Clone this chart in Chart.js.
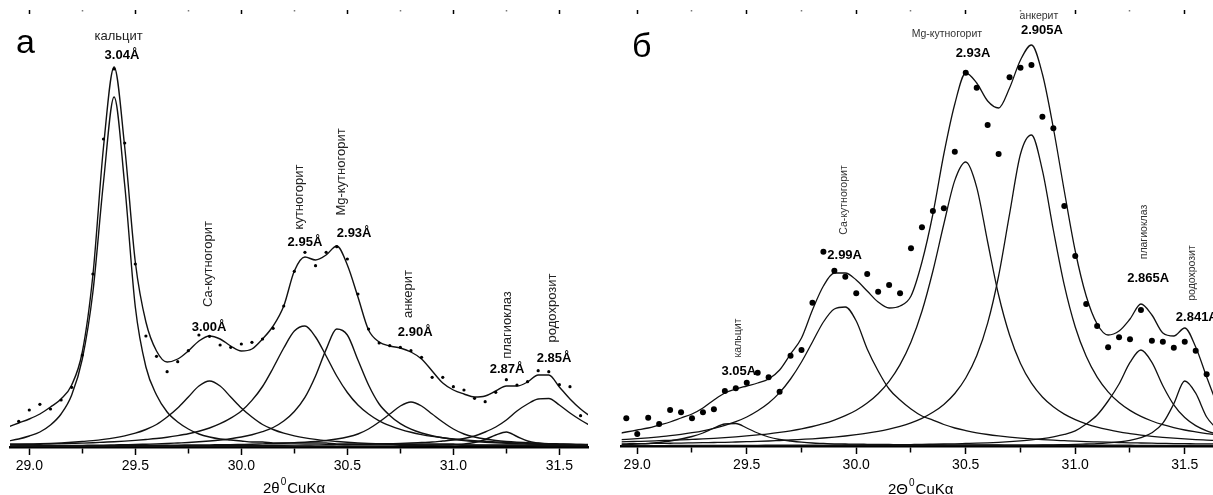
<!DOCTYPE html>
<html lang="ru">
<head>
<meta charset="UTF-8">
<title>Разложение профилей карбонатов</title>
<script src="https://cdn.jsdelivr.net/npm/chart.js"></script>
<style>
  html, body { margin: 0; padding: 0; background: #fff; overflow: hidden; width: 1213px; height: 495px; }
  #chartA { position: absolute; left: 0; top: 0; }
  #chartB { position: absolute; left: 600px; top: 0; }
</style>
</head>
<body>
<canvas id="chartA" width="600" height="495"></canvas>
<canvas id="chartB" width="617" height="495"></canvas>
<script>
// 2θ, шаг 0.05
const twoTheta = [
  28.90, 28.95, 29.00, 29.05, 29.10, 29.15, 29.20, 29.25,
  29.30, 29.35, 29.40, 29.45, 29.50, 29.55, 29.60, 29.65,
  29.70, 29.75, 29.80, 29.85, 29.90, 29.95, 30.00, 30.05,
  30.10, 30.15, 30.20, 30.25, 30.30, 30.35, 30.40, 30.45,
  30.50, 30.55, 30.60, 30.65, 30.70, 30.75, 30.80, 30.85,
  30.90, 30.95, 31.00, 31.05, 31.10, 31.15, 31.20, 31.25,
  31.30, 31.35, 31.40, 31.45, 31.50, 31.55, 31.60, 31.65
];
const tickVals = [29.0, 29.25, 29.5, 29.75, 30.0, 30.25, 30.5, 30.75, 31.0, 31.25, 31.5];

// ---- а ----
const calciteA = [
  6, 8, 11, 15, 22, 33, 52, 88,
  155, 265, 350, 262, 140, 80, 52, 35,
  25, 18, 13, 10, 8, 7, 6, 5,
  5, 4, 4, 4, 4, 4, 4, 3,
  3, 3, 3, 3, 3, 3, 3, 3,
  3, 3, 3, 2, 2, 2, 2, 2,
  2, 2, 2, 2, 2, 2, 2, 2
];
const caKutA = [
  3, 3, 3, 3.2, 3.6, 4.1, 4.7, 5.5,
  6.4, 7.6, 9.1, 11.1, 13.8, 17.5, 22.5, 30,
  39, 50, 61, 66, 61, 50, 39, 30,
  22.5, 17.5, 13.8, 11.1, 9.1, 7.6, 6.4, 5.5,
  4.7, 4.1, 3.6, 3.2, 2.8, 2.5, 2.3, 2.1,
  2, 2, 1.9, 1.8, 1.7, 1.6, 1.5, 1.5,
  1.4, 1.4, 1.3, 1.3, 1.2, 1.2, 1.1, 1.1
];
const kutA = [
  2.2, 2.4, 2.6, 2.8, 3.0, 3.3, 3.6, 3.9,
  4.3, 4.8, 5.3, 5.9, 6.6, 7.5, 8.5, 9.8,
  11.4, 13.3, 15.8, 19, 23.3, 28.9, 36, 46.6,
  60.5, 79, 99, 116, 121, 110, 91, 71,
  54.5, 42, 33, 26.2, 21.4, 17.6, 14.7, 12.4,
  10.6, 9.2, 8, 7.1, 6.3, 5.7, 5.1, 4.6,
  4.1, 3.7, 3.4, 3.1, 2.9, 2.7, 2.5, 2.3
];
const mgKutA = [
  0.9, 1.0, 1.1, 1.2, 1.3, 1.4, 1.5, 1.6,
  1.8, 1.9, 2.1, 2.3, 2.5, 2.8, 3.1, 3.5,
  4.0, 4.5, 5.2, 6, 7, 8.3, 10, 12.2,
  15.3, 19.5, 26, 35.5, 49.6, 71, 97.6, 118,
  112, 87, 62, 43, 31.6, 23.3, 17.8, 14,
  11.3, 9.3, 7.7, 6.4, 5.5, 4.8, 4.2, 3.7,
  3.3, 3.0, 2.7, 2.4, 2.2, 2.0, 1.9, 1.7
];
const ankA = [
  0.9, 0.95, 1.0, 1.05, 1.1, 1.15, 1.2, 1.3,
  1.3, 1.35, 1.4, 1.5, 1.6, 1.7, 1.7, 1.8,
  1.9, 1.95, 2.0, 2.1, 2.3, 2.4, 2.6, 2.8,
  3.1, 3.4, 3.8, 4.3, 4.8, 5.5, 6.5, 8,
  10, 13, 18, 25, 33, 41, 45, 41,
  33, 25, 18, 13, 10, 8, 6.5, 5.5,
  4.8, 4.3, 3.8, 3.4, 3.1, 2.8, 2.6, 2.4
];
const plagA = [
  0.35, 0.35, 0.4, 0.4, 0.4, 0.4, 0.4, 0.45,
  0.45, 0.45, 0.45, 0.5, 0.5, 0.5, 0.5, 0.55,
  0.55, 0.55, 0.6, 0.6, 0.6, 0.65, 0.65, 0.7,
  0.7, 0.7, 0.75, 0.8, 0.8, 0.85, 0.9, 0.9,
  0.95, 1.0, 1.0, 1.1, 1.15, 1.2, 1.3, 1.45,
  1.6, 1.9, 2.3, 3, 4.5, 7.5, 12, 15,
  10.5, 6, 4, 3, 2.3, 1.9, 1.7, 1.5
];
const rhodA = [
  0.75, 0.8, 0.8, 0.8, 0.85, 0.85, 0.9, 0.9,
  0.95, 0.95, 1.0, 1.0, 1.05, 1.1, 1.1, 1.15,
  1.2, 1.25, 1.3, 1.35, 1.4, 1.45, 1.5, 1.6,
  1.65, 1.7, 1.8, 1.9, 2.0, 2.1, 2.2, 2.35,
  2.5, 2.65, 2.8, 3.0, 3.3, 3.6, 4.0, 4.5,
  5, 6, 7, 8.5, 11, 15, 20, 27,
  36, 43, 48, 48.5, 42, 34, 27, 21
];
const sumA = [
  20, 24, 28, 33, 40, 48, 62, 95,
  172, 300, 380, 300, 185, 125, 96, 85,
  88, 96, 106, 111, 108, 101, 96, 98,
  108, 121, 141, 176, 190, 187, 192, 201,
  182, 150, 117, 105, 101, 99, 95, 88,
  76, 64, 57, 53, 50, 51, 56, 61,
  61, 65, 72, 72, 60, 48, 38, 30
];
const obsA = [
  null, 25.7, 37, 42.7, 38, 47, 59.7, 92,
  173, 308, 378, 304, 183, 111, 90.7, 75.3,
  85.3, 96.3, 112, 110.7, 102, 99.7, 103, 104.7,
  108, 118.7, 141, 175.7, 194.7, 181.3, 194.7, 200.3,
  188, 153, 118, 104, 101.3, 99.7, 96.3, 89.7,
  69.7, 69.7, 60.3, 57, 48.7, 45.3, 54.7, 67.3,
  62, 65.3, 76.3, 75.3, 62.3, 60.3, 31.3, null
];

// ---- б ----
const calciteB = [
  1, 1.5, 2, 2.5, 3.5, 5, 7, 9.5,
  13, 18, 22, 22.5, 18, 13, 9, 6.5,
  5, 3.8, 3, 2.6, 2.2, 2, 1.8, 1.7,
  1.6, 1.5, 1.4, 1.35, 1.3, 1.25, 1.2, 1.15,
  1.1, 1.05, 1.0, 1.0, 0.95, 0.95, 0.9, 0.9,
  0.85, 0.85, 0.8, 0.8, 0.8, 0.75, 0.75, 0.75,
  0.7, 0.7, 0.7, 0.7, 0.65, 0.65, 0.65, 0.65
];
const caKutB = [
  6.1, 6.7, 7.4, 8.2, 9.2, 10.3, 11.7, 13.3,
  15.2, 17.6, 20.6, 24.3, 29, 35.2, 43, 53.4,
  67, 84, 104, 124, 137, 139, 125, 97,
  75, 57, 46, 37, 30, 25.9, 21.5, 18,
  15.4, 13.2, 11.5, 10.1, 8.9, 7.9, 7.1, 6.4,
  5.8, 5.3, 4.8, 4.4, 4.1, 3.8, 3.5, 3.2,
  3, 2.8, 2.6, 2.4, 2.3, 2.2, 2.1, 2.0
];
const mgKutB = [
  4.1, 4.3, 4.6, 4.9, 5.3, 5.7, 6.1, 6.6,
  7.1, 7.7, 8.4, 9.2, 10.1, 11.1, 12.2, 13.6,
  15.2, 17.1, 19.5, 22.3, 25.9, 30.3, 35.8, 43,
  52.3, 64.7, 81.4, 104, 134.7, 175, 222, 265.6,
  284, 258.7, 204, 151, 111, 82.6, 62.8, 49,
  39.2, 31.9, 26.4, 22.2, 18.9, 16.3, 14.1, 12.4,
  10.9, 9.7, 8.7, 7.8, 7.1, 6.4, 5.9, 5.4
];
const ankB = [
  2.1, 2.2, 2.3, 2.45, 2.6, 2.75, 2.9, 3.1,
  3.3, 3.5, 3.7, 4.0, 4.3, 4.6, 5.0, 5.5,
  6.0, 6.6, 7.2, 8.0, 8.9, 10, 11.3, 12.8,
  14.6, 16.9, 19.7, 23.2, 27.7, 33.7, 41.6, 52.5,
  68, 90.2, 122.8, 170, 231.8, 292, 311, 275.6,
  216, 160.8, 119, 89.7, 68.9, 54.2, 43.5, 35.6,
  29.6, 25, 21.3, 18.4, 16, 14.1, 12.4, 11
];
const plagB = [
  0.4, 0.4, 0.4, 0.45, 0.45, 0.5, 0.5, 0.55,
  0.55, 0.6, 0.6, 0.65, 0.7, 0.7, 0.75, 0.8,
  0.85, 0.9, 0.9, 0.95, 1.0, 1.0, 1.05, 1.1,
  1.2, 1.25, 1.3, 1.45, 1.6, 1.8, 2, 2.2,
  2.5, 2.8, 3.2, 3.7, 4.3, 5.1, 6.1, 7.4,
  9.2, 11.6, 15.2, 22, 31, 45, 62, 83.6,
  96, 83.6, 60.3, 41.2, 28.5, 20.4, 15.2, 11.6
];
const rhodB = [
  0.3, 0.3, 0.3, 0.3, 0.32, 0.33, 0.34, 0.35,
  0.35, 0.36, 0.37, 0.38, 0.39, 0.4, 0.41, 0.42,
  0.43, 0.44, 0.45, 0.46, 0.47, 0.48, 0.5, 0.52,
  0.54, 0.56, 0.58, 0.6, 0.62, 0.64, 0.67, 0.7,
  0.72, 0.75, 0.78, 0.82, 0.86, 0.9, 0.95, 1.0,
  1.1, 1.35, 1.6, 2.0, 2.4, 3.1, 4.1, 5.7,
  8.4, 13.2, 22.8, 42.2, 65, 52.8, 29, 16.3
];
const sumB = [
  12, 14, 16, 18, 21, 24, 28, 32,
  38, 46, 53, 57, 60, 63, 67, 76,
  92, 108, 136, 160, 173, 173, 166, 155,
  144, 138, 140, 150, 184, 232, 292, 342,
  373, 363, 345, 338, 358, 386, 401, 372,
  318, 255, 195, 150, 122, 111, 115, 127,
  142, 131, 113, 110, 118, 99, 69, 40
];
const obsB = [
  null, 27.7, 12, 28.3, 22, 36, 33.7, 27.7,
  33.7, 36.7, 55, 57.7, 63.3, 73.3, 68.7, 54.3,
  90.3, 96, 143.3, 194.3, 175.3, 169.3, 152.7, 172,
  154.3, 161, 152.7, 197.7, 218.7, 235, 237.7, 294.3,
  373.3, 358.3, 321, 292, 368.7, 378.3, 381, 329.3,
  317.7, 240, 190, 142, 120, 98.7, 108.7, 106.7,
  136, 105.3, 104.3, 98.3, 104.3, 95.3, 71.7, null
];

// подписи: текст, 2θ, интенсивность, поворот, тип
const notesA = [
  ['кальцит', 29.421, 411, false, 'name'],
  ['3.04Å', 29.437, 392, false, 'val'],
  ['Са-кутногорит', 29.843, 183, true, 'name'],
  ['3.00Å', 29.848, 120, false, 'val'],
  ['кутногорит', 30.272, 250, true, 'name'],
  ['2.95Å', 30.30, 205, false, 'val'],
  ['Mg-кутногорит', 30.47, 275, true, 'name'],
  ['2.93Å', 30.532, 214, false, 'val'],
  ['анкерит', 30.787, 153, true, 'name'],
  ['2.90Å', 30.82, 115, false, 'val'],
  ['плагиоклаз', 31.253, 122, true, 'name'],
  ['2.87Å', 31.253, 78, false, 'val'],
  ['родохрозит', 31.465, 139, true, 'name'],
  ['2.85Å', 31.475, 89, false, 'val']
];
const notesB = [
  ['кальцит', 29.46, 108, true, 'name'],
  ['3.05A', 29.464, 75, false, 'val'],
  ['Са-кутногорит', 29.944, 246, true, 'name'],
  ['2.99A', 29.947, 191, false, 'val'],
  ['Mg-кутногорит', 30.414, 412, false, 'name'],
  ['2.93A', 30.533, 393, false, 'val'],
  ['анкерит', 30.834, 430, false, 'name'],
  ['2.905A', 30.848, 416, false, 'val'],
  ['плагиоклаз', 31.314, 214, true, 'name'],
  ['2.865A', 31.333, 168, false, 'val'],
  ['родохрозит', 31.532, 173, true, 'name'],
  ['2.841A', 31.555, 129, false, 'val']
];

const FONT = '"Liberation Sans", Arial, sans-serif';
const isMajor = v => Math.abs(v * 2 - Math.round(v * 2)) < 1e-6;

function notesPlugin(notes, fonts, letter, theta) {
  return {
    id: 'notes',
    afterDatasetsDraw(chart) {
      const { ctx, scales: { x, y } } = chart;
      ctx.save();
      ctx.textAlign = 'center';
      ctx.textBaseline = 'middle';
      notes.forEach(([t, tx, ty, rot, kind]) => {
        ctx.save();
        ctx.font = fonts[kind].font;
        ctx.fillStyle = fonts[kind].color;
        ctx.translate(x.getPixelForValue(tx), y.getPixelForValue(ty));
        if (rot) ctx.rotate(-Math.PI / 2);
        ctx.fillText(t, 0, 0);
        ctx.restore();
      });
      // буква панели
      ctx.textAlign = 'left';
      ctx.textBaseline = 'alphabetic';
      ctx.fillStyle = '#000';
      ctx.font = '34px ' + FONT;
      ctx.fillText(letter.text, letter.x, letter.y);
      // подпись оси 2θ⁰CuKα
      let px = theta.x;
      ctx.font = '15px ' + FONT;
      ctx.fillText('2' + theta.sym, px, theta.y);
      px += ctx.measureText('2' + theta.sym).width + 1;
      ctx.font = '10px ' + FONT;
      ctx.fillText('0', px, theta.y - 8);
      px += ctx.measureText('0').width + 1;
      ctx.font = '15px ' + FONT;
      ctx.fillText('CuKα', px, theta.y);
      ctx.restore();
    }
  };
}

function makeChart(id, p) {
  const pts = vals => twoTheta.map((t, i) => ({ x: t, y: vals[i] })).filter(d => d.y !== null);
  const curve = vals => ({
    data: pts(vals), borderColor: '#111', borderWidth: p.lw,
    pointRadius: 0, cubicInterpolationMode: 'monotone', fill: false
  });
  const datasets = [{
    data: pts(p.obs), showLine: false, pointRadius: p.pr, pointStyle: 'circle',
    pointBackgroundColor: '#000', pointBorderWidth: 0
  }, curve(p.sum)].concat(p.parts.map(curve));

  const setTicks = s => { s.ticks = tickVals.map(v => ({ value: v })); };

  return new Chart(document.getElementById(id), {
    type: 'line',
    data: { datasets },
    options: {
      responsive: false,
      animation: false,
      events: [],
      layout: { padding: { left: p.padL, right: p.padR, top: 0, bottom: 0 } },
      plugins: { legend: { display: false }, tooltip: { enabled: false } },
      scales: {
        x: {
          type: 'linear', position: 'bottom', min: p.min, max: p.max,
          afterBuildTicks: setTicks,
          afterFit: s => { s.height = p.bottomH; },
          ticks: {
            font: { family: FONT, size: 14 }, color: '#000', padding: 3,
            maxRotation: 0, autoSkip: false,
            callback: v => isMajor(v) ? v.toFixed(1) : ''
          },
          grid: {
            drawOnChartArea: false, tickLength: 8, tickColor: '#000', tickWidth: 1.5,
            tickBorderDash: c => (c.tick && !isMajor(c.tick.value)) ? [5, 10] : []
          },
          border: { display: true, color: '#000', width: 2.5 }
        },
        xTop: {
          type: 'linear', position: 'top', min: p.min, max: p.max,
          afterBuildTicks: setTicks,
          afterFit: s => { s.height = 14; },
          ticks: { display: false },
          grid: {
            drawOnChartArea: false, tickLength: 4, tickWidth: 1.5,
            tickColor: c => (c.tick && isMajor(c.tick.value)) ? '#000' : '#777',
            tickBorderDash: c => (c.tick && !isMajor(c.tick.value)) ? [1.5, 10] : []
          },
          border: { display: false }
        },
        y: { display: false, min: 0, max: p.ymax }
      }
    },
    plugins: [notesPlugin(p.notes, p.fonts, p.letter, p.theta)]
  });
}

makeChart('chartA', {
  min: 28.909, max: 31.635, padL: 10, padR: 12, bottomH: 48, ymax: 433,
  lw: 1.4, pr: 1.6,
  obs: obsA, sum: sumA,
  parts: [calciteA, caKutA, kutA, mgKutA, ankA, plagA, rhodA],
  notes: notesA,
  fonts: {
    name: { font: '13px ' + FONT, color: '#222' },
    val: { font: 'bold 13px ' + FONT, color: '#000' }
  },
  letter: { text: 'а', x: 16, y: 53 },
  theta: { sym: 'θ', x: 263, y: 493 }
});

makeChart('chartB', {
  min: 28.929, max: 31.629, padL: 21.7, padR: 0, bottomH: 49, ymax: 432,
  lw: 1.3, pr: 3,
  obs: obsB, sum: sumB,
  parts: [calciteB, caKutB, mgKutB, ankB, plagB, rhodB],
  notes: notesB,
  fonts: {
    name: { font: '10.5px ' + FONT, color: '#333' },
    val: { font: 'bold 13px ' + FONT, color: '#000' }
  },
  letter: { text: 'б', x: 32, y: 57 },
  theta: { sym: 'Θ', x: 288, y: 494 }
});
</script>
</body>
</html>
